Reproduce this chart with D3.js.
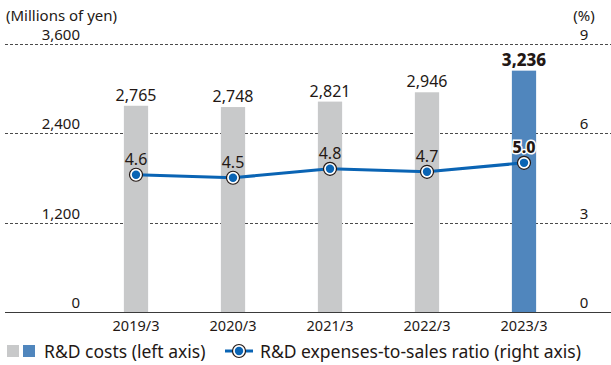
<!DOCTYPE html>
<html>
<head>
<meta charset="utf-8">
<script src="https://cdn.jsdelivr.net/npm/d3@7"></script>
<style>
  html, body { margin: 0; padding: 0; background: #fff; }
  svg { display: block; font-family: "Noto Sans", Lato, sans-serif; }
</style>
</head>
<body>
<svg id="chart" width="611" height="365"></svg>
<script>
// Fiscal years and values
const years = ["2019/3", "2020/3", "2021/3", "2022/3", "2023/3"];
const rdCosts = [2765, 2748, 2821, 2946, 3236];
const salesRatio = [4.6, 4.5, 4.8, 4.7, 5.0];
const leftTicks = [0, 1200, 2400, 3600];
const rightTicks = [0, 3, 6, 9];

const textColor = "#231815";
const grayBar = "#c8c9ca";
const blueBar = "#5086bd";
const lineColor = "#0a64b4";

const svg = d3.select("#chart");

const plotTop = 43.5, plotBottom = 312;
const x = d3.scaleBand().domain(years).range([87.5, 572.5]).paddingInner(0.75).paddingOuter(0.375);
const yL = d3.scaleLinear().domain([0, 3600]).range([plotBottom, plotTop]);
const yR = d3.scaleLinear().domain([0, 9]).range([plotBottom, plotTop]);

// Dashed gridlines
svg.append("g").selectAll("line")
  .data(leftTicks.filter(d => d > 0))
  .join("line")
  .attr("x1", 5).attr("x2", 611)
  .attr("y1", d => Math.round(yL(d)) + 0.5).attr("y2", d => Math.round(yL(d)) + 0.5)
  .attr("stroke", "#4a4a4a").attr("stroke-width", 1).attr("stroke-dasharray", "3,2");

// Left axis labels
svg.append("g").selectAll("text")
  .data(leftTicks).join("text")
  .attr("x", 80).attr("y", d => yL(d) - 4)
  .attr("text-anchor", "end").attr("font-size", 15).attr("fill", textColor)
  .text(d => d3.format(",")(d));

// Right axis labels
svg.append("g").selectAll("text")
  .data(rightTicks).join("text")
  .attr("x", 584).attr("y", d => yR(d) - 4)
  .attr("text-anchor", "middle").attr("font-size", 15).attr("fill", textColor)
  .text(d => d);

svg.append("text").attr("x", 6).attr("y", 21).attr("font-size", 15).attr("fill", textColor).text("(Millions of yen)");
svg.append("text").attr("x", 584).attr("y", 21).attr("text-anchor", "middle").attr("font-size", 15).attr("fill", textColor).text("(%)");

// Bars
svg.append("g").selectAll("rect")
  .data(years).join("rect")
  .attr("x", d => x(d)).attr("width", x.bandwidth())
  .attr("y", (d, i) => yL(rdCosts[i]))
  .attr("height", (d, i) => plotBottom - yL(rdCosts[i]))
  .attr("fill", (d, i) => i === years.length - 1 ? blueBar : grayBar);

// Baseline
svg.append("line").attr("x1", 5).attr("x2", 611)
  .attr("y1", plotBottom + 0.5).attr("y2", plotBottom + 0.5)
  .attr("stroke", "#3a3a3a").attr("stroke-width", 1.2);

// Bar value labels
svg.append("g").selectAll("text")
  .data(years).join("text")
  .attr("x", d => x(d) + x.bandwidth() / 2)
  .attr("y", (d, i) => yL(rdCosts[i]) - 5)
  .attr("text-anchor", "middle")
  .attr("font-size", (d, i) => i === years.length - 1 ? 17 : 16)
  .attr("font-weight", (d, i) => i === years.length - 1 ? 800 : 400)
  .attr("fill", textColor)
  .text((d, i) => d3.format(",")(rdCosts[i]));

// X axis labels
svg.append("g").selectAll("text")
  .data(years).join("text")
  .attr("x", d => x(d) + x.bandwidth() / 2)
  .attr("y", 331)
  .attr("text-anchor", "middle").attr("font-size", 14.5).attr("fill", textColor)
  .text(d => d);

// Ratio line
const cx = d => x(d) + x.bandwidth() / 2;
svg.append("path")
  .datum(years)
  .attr("d", d3.line().x(d => cx(d)).y((d, i) => yR(salesRatio[i])))
  .attr("fill", "none").attr("stroke", lineColor).attr("stroke-width", 3);

const dots = svg.append("g").selectAll("g").data(years).join("g")
  .attr("transform", (d, i) => `translate(${cx(d)},${yR(salesRatio[i])})`);
dots.append("circle").attr("r", 6.5).attr("fill", "#fff").attr("stroke", textColor).attr("stroke-width", 1.2);
dots.append("circle").attr("r", 4.2).attr("fill", lineColor);

// Ratio labels
svg.append("g").selectAll("text")
  .data(years).join("text")
  .attr("x", d => cx(d))
  .attr("y", (d, i) => yR(salesRatio[i]) - 10)
  .attr("text-anchor", "middle").attr("font-size", 16)
  .attr("font-weight", (d, i) => i === years.length - 1 ? 800 : 400)
  .attr("fill", textColor)
  .attr("stroke", "#fff").attr("stroke-width", (d, i) => i === years.length - 1 ? 3 : 0)
  .attr("paint-order", "stroke")
  .text((d, i) => d3.format(".1f")(salesRatio[i]));

// Legend
const lg = svg.append("g");
lg.append("rect").attr("x", 7).attr("y", 345).attr("width", 12).attr("height", 12).attr("fill", grayBar);
lg.append("rect").attr("x", 23).attr("y", 345).attr("width", 12).attr("height", 12).attr("fill", blueBar);
lg.append("text").attr("x", 44).attr("y", 358).attr("font-size", 17.5).attr("fill", textColor).text("R&D costs (left axis)");
lg.append("line").attr("x1", 225).attr("x2", 253).attr("y1", 351).attr("y2", 351).attr("stroke", lineColor).attr("stroke-width", 3);
lg.append("circle").attr("cx", 239).attr("cy", 351).attr("r", 6.5).attr("fill", "#fff").attr("stroke", textColor).attr("stroke-width", 1.2);
lg.append("circle").attr("cx", 239).attr("cy", 351).attr("r", 4.2).attr("fill", lineColor);
lg.append("text").attr("x", 260).attr("y", 358).attr("font-size", 17.5).attr("fill", textColor).text("R&D expenses-to-sales ratio (right axis)");
</script>
</body>
</html>
